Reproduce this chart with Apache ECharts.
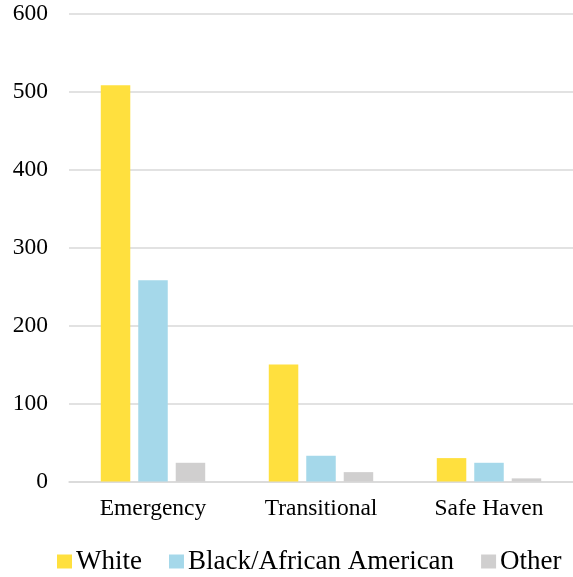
<!DOCTYPE html>
<html>
<head>
<meta charset="utf-8">
<script src="https://cdn.jsdelivr.net/npm/echarts@6/dist/echarts.min.js"></script>
<style>
  html, body { margin: 0; padding: 0; background: #ffffff; }
  #chart { width: 573px; height: 577px; }
</style>
</head>
<body>
<div id="chart"></div>
<script>
// Shelter types on the category axis
const categories = ['Emergency', 'Transitional', 'Safe Haven'];

// People counted in each shelter type, by race
const whiteValues = [508, 150, 30];
const blackValues = [258, 33, 24];
const otherValues = [24, 12, 4];

const seriesNames = ['White', 'Black/African American', 'Other'];
const seriesColors = ['#FFE03E', '#A5D8EA', '#D0CFCF'];

// Value axis ticks
const yMin = 0;
const yMax = 600;
const yStep = 100;

const fontFamily = "'Liberation Serif', 'Times New Roman', serif";

const chart = echarts.init(document.getElementById('chart'), null, { renderer: 'canvas' });

function makeBar(name, values, color) {
  return {
    name: name,
    type: 'bar',
    data: values,
    barWidth: 29.5,
    barGap: '27%',
    itemStyle: { color: color },
    emphasis: { disabled: true }
  };
}

chart.setOption({
  animation: false,
  backgroundColor: '#ffffff',
  textStyle: { fontFamily: fontFamily, color: '#000000' },
  grid: { left: 69, top: 13.5, width: 511, bottom: 95.5, containLabel: false },
  legend: {
    top: 543,
    left: 52,
    itemWidth: 15,
    itemHeight: 14,
    itemGap: 27,
    icon: 'rect',
    textStyle: { fontFamily: fontFamily, fontSize: 27, color: '#000000', padding: [0, 0, 0, -1] },
    data: seriesNames
  },
  xAxis: {
    type: 'category',
    data: categories,
    axisLine: { show: true, lineStyle: { color: '#D9D9D9', width: 1.5 } },
    axisTick: { show: false },
    axisLabel: { fontFamily: fontFamily, fontSize: 23.5, color: '#000000', margin: 15 },
    splitLine: { show: false }
  },
  yAxis: {
    type: 'value',
    min: yMin,
    max: yMax,
    interval: yStep,
    axisLine: { show: false },
    axisTick: { show: false },
    axisLabel: { fontFamily: fontFamily, fontSize: 23.5, color: '#000000', margin: 21 },
    splitLine: { show: true, lineStyle: { color: '#D9D9D9', width: 1.5 } }
  },
  series: [
    makeBar(seriesNames[0], whiteValues, seriesColors[0]),
    makeBar(seriesNames[1], blackValues, seriesColors[1]),
    makeBar(seriesNames[2], otherValues, seriesColors[2])
  ]
});
</script>
</body>
</html>
